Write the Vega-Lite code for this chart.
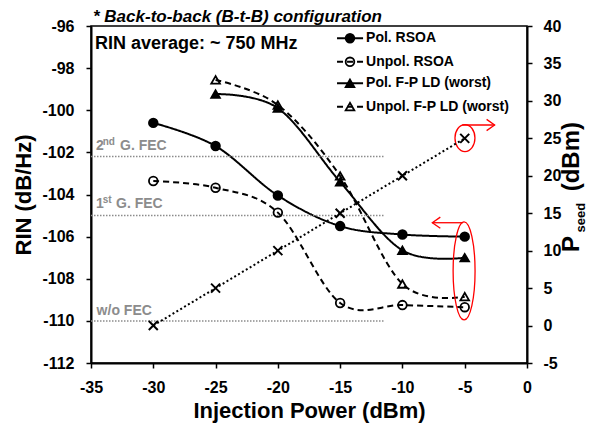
{
  "$schema": "https://vega.github.io/schema/vega-lite/v6.json",
  "width": 436,
  "height": 337,
  "autosize": {"type": "none"},
  "padding": {"left": 91, "top": 26, "right": 64, "bottom": 64},
  "background": "white",
  "title": {
    "text": "* Back-to-back (B-t-B) configuration",
    "anchor": "start",
    "frame": "group",
    "fontSize": 17,
    "fontWeight": "bold",
    "fontStyle": "italic",
    "color": "black",
    "font": "Liberation Sans",
    "offset": 6,
    "dx": 2,
    "dy": 14
  },
  "config": {
    "font": "Liberation Sans",
    "view": {"stroke": "black", "strokeWidth": 1.5},
    "axis": {
      "grid": false,
      "domainColor": "black",
      "domainWidth": 2,
      "tickColor": "black",
      "tickWidth": 1.5,
      "tickSize": 5,
      "labelFont": "Liberation Sans",
      "labelFontSize": 16,
      "labelFontWeight": "bold",
      "labelColor": "black",
      "labelOverlap": false,
      "labelExpr": "'' + datum.value",
      "titleFont": "Liberation Sans",
      "titleFontSize": 22,
      "titleFontWeight": "bold",
      "titleColor": "black"
    }
  },
  "datasets": {
    "rin": [
      {"series": "Pol. RSOA", "power": -30, "rin": -100.6},
      {"series": "Pol. RSOA", "power": -25, "rin": -101.7},
      {"series": "Pol. RSOA", "power": -20, "rin": -104.05},
      {"series": "Pol. RSOA", "power": -15, "rin": -105.5},
      {"series": "Pol. RSOA", "power": -10, "rin": -105.9},
      {"series": "Pol. RSOA", "power": -5, "rin": -106.0},
      {"series": "Unpol. RSOA", "power": -30, "rin": -103.36},
      {"series": "Unpol. RSOA", "power": -25, "rin": -103.68},
      {"series": "Unpol. RSOA", "power": -20, "rin": -104.86},
      {"series": "Unpol. RSOA", "power": -15, "rin": -109.15},
      {"series": "Unpol. RSOA", "power": -10, "rin": -109.25},
      {"series": "Unpol. RSOA", "power": -5, "rin": -109.35},
      {"series": "Pol. F-P LD (worst)", "power": -25, "rin": -99.23},
      {"series": "Pol. F-P LD (worst)", "power": -20, "rin": -99.9},
      {"series": "Pol. F-P LD (worst)", "power": -15, "rin": -103.4},
      {"series": "Pol. F-P LD (worst)", "power": -10, "rin": -106.65},
      {"series": "Pol. F-P LD (worst)", "power": -5, "rin": -107.0},
      {"series": "Unpol. F-P LD (worst)", "power": -25, "rin": -98.56},
      {"series": "Unpol. F-P LD (worst)", "power": -20, "rin": -99.75},
      {"series": "Unpol. F-P LD (worst)", "power": -15, "rin": -103.12},
      {"series": "Unpol. F-P LD (worst)", "power": -10, "rin": -108.25},
      {"series": "Unpol. F-P LD (worst)", "power": -5, "rin": -108.85}
    ],
    "pseed": [
      {"power": -30, "pseed": 0},
      {"power": -25, "pseed": 5},
      {"power": -20, "pseed": 10},
      {"power": -15, "pseed": 15},
      {"power": -10, "pseed": 20},
      {"power": -5, "pseed": 25}
    ],
    "legend": [
      {"series": "Pol. RSOA", "rin": -96.58},
      {"series": "Unpol. RSOA", "rin": -97.7},
      {"series": "Pol. F-P LD (worst)", "rin": -98.72},
      {"series": "Unpol. F-P LD (worst)", "rin": -99.83}
    ],
    "fec": [{"rin": -102.2}, {"rin": -105.0}, {"rin": -110.0}],
    "fecText": [
      {"label": "2", "power": -34.6, "rin": -101.89},
      {"label": "G. FEC", "power": -32.67, "rin": -101.89},
      {"label": "1", "power": -34.6, "rin": -104.64},
      {"label": "G. FEC", "power": -32.99, "rin": -104.64},
      {"label": "w/o FEC", "power": -34.55, "rin": -109.72}
    ],
    "fecSup": [
      {"label": "nd", "power": -34.06, "rin": -101.67},
      {"label": "st", "power": -34.06, "rin": -104.42}
    ]
  },
  "layer": [
    {
      "layer": [
        {
          "data": {"name": "rin"},
          "mark": {"type": "line", "interpolate": "cardinal", "color": "black", "strokeWidth": 2},
          "encoding": {
            "x": {
              "field": "power", "type": "quantitative",
              "scale": {"domain": [-35, 0], "nice": false},
              "axis": {"title": "Injection Power (dBm)", "values": [-35, -30, -25, -20, -15, -10, -5, 0], "labelPadding": 11, "titlePadding": 5, "labelFlush": false, "labelOverlap": false}
            },
            "y": {
              "field": "rin", "type": "quantitative",
              "scale": {"domain": [-112, -96], "nice": false, "zero": false},
              "axis": {"title": "RIN (dB/Hz)", "values": [-112, -110, -108, -106, -104, -102, -100, -98, -96], "labelPadding": 12, "titlePadding": 6, "labelFlush": false, "labelOverlap": false}
            },
            "detail": {"field": "series"},
            "strokeDash": {
              "field": "series", "type": "nominal",
              "scale": {"domain": ["Pol. RSOA", "Unpol. RSOA", "Pol. F-P LD (worst)", "Unpol. F-P LD (worst)"], "range": [[1, 0], [6, 4], [1, 0], [6, 4]]},
              "legend": null
            }
          }
        },
        {
          "data": {"name": "fec"},
          "mark": {"type": "rule", "color": "#8c8c8c", "strokeWidth": 1.5, "strokeDash": [1.5, 1.5]},
          "encoding": {
            "x": {"datum": -35, "type": "quantitative"},
            "x2": {"datum": -11.4},
            "y": {"field": "rin", "type": "quantitative"}
          }
        },
        {
          "data": {"name": "fecText"},
          "mark": {"type": "text", "align": "left", "baseline": "alphabetic", "fontSize": 14, "fontWeight": "bold", "color": "#8c8c8c"},
          "encoding": {
            "x": {"field": "power", "type": "quantitative"},
            "y": {"field": "rin", "type": "quantitative"},
            "text": {"field": "label"}
          }
        },
        {
          "data": {"name": "fecSup"},
          "mark": {"type": "text", "align": "left", "baseline": "alphabetic", "fontSize": 10, "fontWeight": "bold", "color": "#8c8c8c"},
          "encoding": {
            "x": {"field": "power", "type": "quantitative"},
            "y": {"field": "rin", "type": "quantitative"},
            "text": {"field": "label"}
          }
        },
        {
          "data": {"name": "rin"},
          "mark": {"type": "point", "filled": true, "stroke": "black", "strokeWidth": 1.8, "size": 75, "opacity": 1},
          "encoding": {
            "x": {"field": "power", "type": "quantitative"},
            "y": {"field": "rin", "type": "quantitative"},
            "shape": {
              "field": "series", "type": "nominal",
              "scale": {"domain": ["Pol. RSOA", "Unpol. RSOA", "Pol. F-P LD (worst)", "Unpol. F-P LD (worst)"], "range": ["circle", "circle", "triangle-up", "triangle-up"]},
              "legend": null
            },
            "fill": {
              "field": "series", "type": "nominal",
              "scale": {"domain": ["Pol. RSOA", "Unpol. RSOA", "Pol. F-P LD (worst)", "Unpol. F-P LD (worst)"], "range": ["black", "rgba(0,0,0,0)", "black", "rgba(0,0,0,0)"]},
              "legend": null
            }
          }
        },
        {
          "data": {"name": "legend"},
          "mark": {"type": "rule", "color": "black", "strokeWidth": 2},
          "encoding": {
            "x": {"datum": -15.25, "type": "quantitative"},
            "x2": {"datum": -13.16},
            "y": {"field": "rin", "type": "quantitative"},
            "strokeDash": {"field": "series", "type": "nominal", "legend": null}
          }
        },
        {
          "data": {"name": "legend"},
          "mark": {"type": "point", "filled": true, "stroke": "black", "strokeWidth": 1.8, "size": 75, "opacity": 1},
          "encoding": {
            "x": {"datum": -14.21, "type": "quantitative"},
            "y": {"field": "rin", "type": "quantitative"},
            "shape": {"field": "series", "type": "nominal", "legend": null},
            "fill": {"field": "series", "type": "nominal", "legend": null}
          }
        },
        {
          "data": {"name": "legend"},
          "mark": {"type": "text", "align": "left", "baseline": "middle", "fontSize": 14, "fontWeight": "bold", "color": "black"},
          "encoding": {
            "x": {"datum": -12.92, "type": "quantitative"},
            "y": {"field": "rin", "type": "quantitative"},
            "text": {"field": "series"}
          }
        },
        {
          "data": {"values": [{"label": "RIN average: ~ 750 MHz"}]},
          "mark": {"type": "text", "align": "left", "baseline": "alphabetic", "fontSize": 18, "fontWeight": "bold", "color": "black"},
          "encoding": {
            "x": {"datum": -34.68, "type": "quantitative"},
            "y": {"datum": -97.07, "type": "quantitative"},
            "text": {"field": "label"}
          }
        },
        {
          "data": {"values": [{"label": "P"}]},
          "mark": {"type": "text", "align": "left", "baseline": "middle", "angle": 270, "fontSize": 24, "fontWeight": "bold", "color": "black"},
          "encoding": {
            "x": {"datum": 3.65, "type": "quantitative"},
            "y": {"datum": -106.73, "type": "quantitative"},
            "text": {"field": "label"}
          }
        },
        {
          "data": {"values": [{"label": "seed"}]},
          "mark": {"type": "text", "align": "left", "baseline": "middle", "angle": 270, "fontSize": 13, "fontWeight": "bold", "color": "black"},
          "encoding": {
            "x": {"datum": 4.35, "type": "quantitative"},
            "y": {"datum": -105.8, "type": "quantitative"},
            "text": {"field": "label"}
          }
        },
        {
          "data": {"values": [{"label": "(dBm)"}]},
          "mark": {"type": "text", "align": "left", "baseline": "middle", "angle": 270, "fontSize": 24, "fontWeight": "bold", "color": "black"},
          "encoding": {
            "x": {"datum": 3.65, "type": "quantitative"},
            "y": {"datum": -103.85, "type": "quantitative"},
            "text": {"field": "label"}
          }
        },
        {
          "data": {"values": [{"power": -5.05, "rin": -107.63}]},
          "mark": {"type": "point", "filled": false, "stroke": "#ff0000", "strokeWidth": 1.3, "size": 9604, "opacity": 1,
            "shape": "M0,-1C0.124,-1,0.224,-0.552,0.224,0C0.224,0.552,0.124,1,0,1C-0.124,1,-0.224,0.552,-0.224,0C-0.224,-0.552,-0.124,-1,0,-1Z"},
          "encoding": {
            "x": {"field": "power", "type": "quantitative"},
            "y": {"field": "rin", "type": "quantitative"}
          }
        },
        {
          "data": {"values": [{"power": -4.98, "rin": -101.32}]},
          "mark": {"type": "point", "filled": false, "stroke": "#ff0000", "strokeWidth": 1.3, "size": 729, "opacity": 1,
            "shape": "M0,-1C0.409,-1,0.74,-0.552,0.74,0C0.74,0.552,0.409,1,0,1C-0.409,1,-0.74,0.552,-0.74,0C-0.74,-0.552,-0.409,-1,0,-1Z"},
          "encoding": {
            "x": {"field": "power", "type": "quantitative"},
            "y": {"field": "rin", "type": "quantitative"}
          }
        },
        {
          "data": {"values": [{"power": -5.2, "to": -2.6, "rin": -100.7}, {"power": -5.14, "to": -7.6, "rin": -105.34}]},
          "mark": {"type": "rule", "color": "#ff0000", "strokeWidth": 1.3},
          "encoding": {
            "x": {"field": "power", "type": "quantitative"},
            "x2": {"field": "to"},
            "y": {"field": "rin", "type": "quantitative"}
          }
        },
        {
          "data": {"values": [{"power": -2.6, "rin": -100.7}]},
          "mark": {"type": "point", "filled": false, "stroke": "#ff0000", "strokeWidth": 1.3, "size": 256, "opacity": 1, "shape": "M-1,-0.7L0,0L-1,0.7"},
          "encoding": {
            "x": {"field": "power", "type": "quantitative"},
            "y": {"field": "rin", "type": "quantitative"}
          }
        },
        {
          "data": {"values": [{"power": -7.6, "rin": -105.34}]},
          "mark": {"type": "point", "filled": false, "stroke": "#ff0000", "strokeWidth": 1.3, "size": 256, "opacity": 1, "shape": "M1,-0.7L0,0L1,0.7"},
          "encoding": {
            "x": {"field": "power", "type": "quantitative"},
            "y": {"field": "rin", "type": "quantitative"}
          }
        }
      ]
    },
    {
      "data": {"name": "pseed"},
      "layer": [
        {
          "mark": {"type": "line", "color": "black", "strokeWidth": 2, "strokeDash": [2, 2.5]},
          "encoding": {
            "x": {"field": "power", "type": "quantitative"},
            "y": {
              "field": "pseed", "type": "quantitative",
              "scale": {"domain": [-5, 40], "nice": false, "zero": false},
              "axis": {"orient": "right", "title": null, "values": [-5, 0, 5, 10, 15, 20, 25, 30, 35, 40], "labelPadding": 11, "labelFlush": false, "labelOverlap": false, "labelBound": false}
            }
          }
        },
        {
          "mark": {"type": "point", "filled": false, "stroke": "black", "strokeWidth": 2, "size": 81, "opacity": 1, "shape": "M-1,-1L1,1M-1,1L1,-1"},
          "encoding": {
            "x": {"field": "power", "type": "quantitative"},
            "y": {"field": "pseed", "type": "quantitative", "axis": {"orient": "right", "title": null, "values": [-5, 0, 5, 10, 15, 20, 25, 30, 35, 40], "labelPadding": 11, "labelFlush": false, "labelOverlap": false, "labelBound": false}}
          }
        }
      ]
    }
  ],
  "resolve": {"scale": {"y": "independent"}}
}
